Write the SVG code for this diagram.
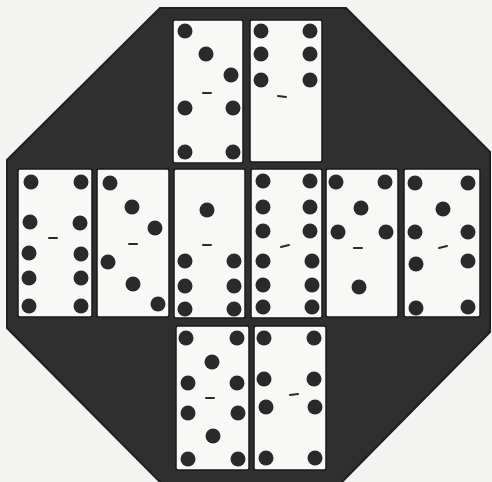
<svg xmlns="http://www.w3.org/2000/svg" width="492" height="482" viewBox="0 0 492 482">
<style>
.bg{fill:#f3f3f1}
.board{fill:#2f2f2f;stroke:#1f1f1f;stroke-width:2}
.dom{fill:#f8f8f6;stroke:#1a1a1a;stroke-width:1.5}
.pip{fill:#2a2a2a}
.dash{stroke:#2a2a2a;stroke-width:2;stroke-linecap:round}
</style>
<rect class="bg" x="0" y="0" width="492" height="482"/>
<polygon class="board" points="160,8 346,8 490,152 490,332 340,484 162,484 7,328 7,160"/>
<g id="dominoes">
<g id="T1">
<rect class="dom" x="173" y="20" width="70" height="143" rx="2"/>
<circle class="pip" cx="185" cy="31" r="7.5"/><circle class="pip" cx="206" cy="54" r="7.5"/><circle class="pip" cx="231" cy="75" r="7.5"/>
<line class="dash" x1="203" y1="93" x2="211" y2="93"/>
<circle class="pip" cx="185" cy="108" r="7.5"/><circle class="pip" cx="233" cy="108" r="7.5"/><circle class="pip" cx="185" cy="152" r="7.5"/><circle class="pip" cx="233" cy="152" r="7.5"/>
</g>
<g id="T2">
<rect class="dom" x="250" y="20" width="72" height="142" rx="2"/>
<circle class="pip" cx="261" cy="31" r="7.5"/><circle class="pip" cx="310" cy="31" r="7.5"/>
<circle class="pip" cx="261" cy="54" r="7.5"/><circle class="pip" cx="310" cy="54" r="7.5"/>
<circle class="pip" cx="261" cy="80" r="7.5"/><circle class="pip" cx="310" cy="80" r="7.5"/>
<line class="dash" x1="278" y1="96" x2="286" y2="97"/>
</g>
<g id="M1">
<rect class="dom" x="18" y="169" width="74" height="148" rx="2"/>
<circle class="pip" cx="31" cy="182" r="7.5"/><circle class="pip" cx="81" cy="182" r="7.5"/>
<circle class="pip" cx="30" cy="222" r="7.5"/><circle class="pip" cx="80" cy="223" r="7.5"/>
<line class="dash" x1="49" y1="238" x2="57" y2="238"/>
<circle class="pip" cx="29" cy="253" r="7.5"/><circle class="pip" cx="81" cy="254" r="7.5"/>
<circle class="pip" cx="29" cy="278" r="7.5"/><circle class="pip" cx="81" cy="278" r="7.5"/>
<circle class="pip" cx="29" cy="306" r="7.5"/><circle class="pip" cx="81" cy="306" r="7.5"/>
</g>
<g id="M2">
<rect class="dom" x="97" y="169" width="72" height="148" rx="2"/>
<circle class="pip" cx="110" cy="183" r="7.5"/><circle class="pip" cx="132" cy="207" r="7.5"/><circle class="pip" cx="155" cy="228" r="7.5"/>
<line class="dash" x1="129" y1="244" x2="137" y2="244"/>
<circle class="pip" cx="108" cy="262" r="7.5"/><circle class="pip" cx="133" cy="284" r="7.5"/><circle class="pip" cx="158" cy="304" r="7.5"/>
</g>
<g id="M3">
<rect class="dom" x="174" y="169" width="71" height="149" rx="2"/>
<circle class="pip" cx="207" cy="210" r="7.5"/>
<line class="dash" x1="203" y1="245" x2="211" y2="245"/>
<circle class="pip" cx="185" cy="261" r="7.5"/><circle class="pip" cx="234" cy="261" r="7.5"/>
<circle class="pip" cx="185" cy="286" r="7.5"/><circle class="pip" cx="234" cy="286" r="7.5"/>
<circle class="pip" cx="185" cy="309" r="7.5"/><circle class="pip" cx="234" cy="309" r="7.5"/>
</g>
<g id="M4">
<rect class="dom" x="251" y="169" width="71" height="149" rx="2"/>
<circle class="pip" cx="263" cy="181" r="7.5"/><circle class="pip" cx="310" cy="181" r="7.5"/>
<circle class="pip" cx="263" cy="207" r="7.5"/><circle class="pip" cx="310" cy="207" r="7.5"/>
<circle class="pip" cx="263" cy="231" r="7.5"/><circle class="pip" cx="310" cy="231" r="7.5"/>
<line class="dash" x1="281" y1="247" x2="289" y2="245"/>
<circle class="pip" cx="263" cy="261" r="7.5"/><circle class="pip" cx="312" cy="261" r="7.5"/>
<circle class="pip" cx="263" cy="285" r="7.5"/><circle class="pip" cx="312" cy="285" r="7.5"/>
<circle class="pip" cx="263" cy="307" r="7.5"/><circle class="pip" cx="312" cy="307" r="7.5"/>
</g>
<g id="M5">
<rect class="dom" x="326" y="169" width="72" height="148" rx="2"/>
<circle class="pip" cx="336" cy="182" r="7.5"/><circle class="pip" cx="385" cy="182" r="7.5"/>
<circle class="pip" cx="361" cy="208" r="7.5"/>
<circle class="pip" cx="338" cy="232" r="7.5"/><circle class="pip" cx="386" cy="232" r="7.5"/>
<line class="dash" x1="354" y1="248" x2="362" y2="248"/>
<circle class="pip" cx="359" cy="287" r="7.5"/>
</g>
<g id="M6">
<rect class="dom" x="404" y="169" width="76" height="148" rx="2"/>
<circle class="pip" cx="415" cy="183" r="7.5"/><circle class="pip" cx="468" cy="183" r="7.5"/>
<circle class="pip" cx="443" cy="209" r="7.5"/>
<circle class="pip" cx="415" cy="232" r="7.5"/><circle class="pip" cx="468" cy="232" r="7.5"/>
<line class="dash" x1="439" y1="248" x2="447" y2="246"/>
<circle class="pip" cx="416" cy="264" r="7.5"/><circle class="pip" cx="468" cy="261" r="7.5"/>
<circle class="pip" cx="416" cy="308" r="7.5"/><circle class="pip" cx="468" cy="307" r="7.5"/>
</g>
<g id="B1">
<rect class="dom" x="176" y="326" width="73" height="144" rx="2"/>
<circle class="pip" cx="186" cy="338" r="7.5"/><circle class="pip" cx="237" cy="338" r="7.5"/>
<circle class="pip" cx="212" cy="362" r="7.5"/>
<circle class="pip" cx="188" cy="383" r="7.5"/><circle class="pip" cx="237" cy="383" r="7.5"/>
<line class="dash" x1="206" y1="398" x2="214" y2="398"/>
<circle class="pip" cx="188" cy="413" r="7.5"/><circle class="pip" cx="238" cy="413" r="7.5"/>
<circle class="pip" cx="213" cy="436" r="7.5"/>
<circle class="pip" cx="188" cy="459" r="7.5"/><circle class="pip" cx="238" cy="459" r="7.5"/>
</g>
<g id="B2">
<rect class="dom" x="254" y="326" width="72" height="144" rx="2"/>
<circle class="pip" cx="264" cy="338" r="7.5"/><circle class="pip" cx="314" cy="338" r="7.5"/>
<circle class="pip" cx="264" cy="379" r="7.5"/><circle class="pip" cx="314" cy="379" r="7.5"/>
<line class="dash" x1="290" y1="395" x2="298" y2="394"/>
<circle class="pip" cx="266" cy="407" r="7.5"/><circle class="pip" cx="315" cy="407" r="7.5"/>
<circle class="pip" cx="266" cy="458" r="7.5"/><circle class="pip" cx="315" cy="458" r="7.5"/>
</g>
</g>
<g id="connectors"/>
</svg>
